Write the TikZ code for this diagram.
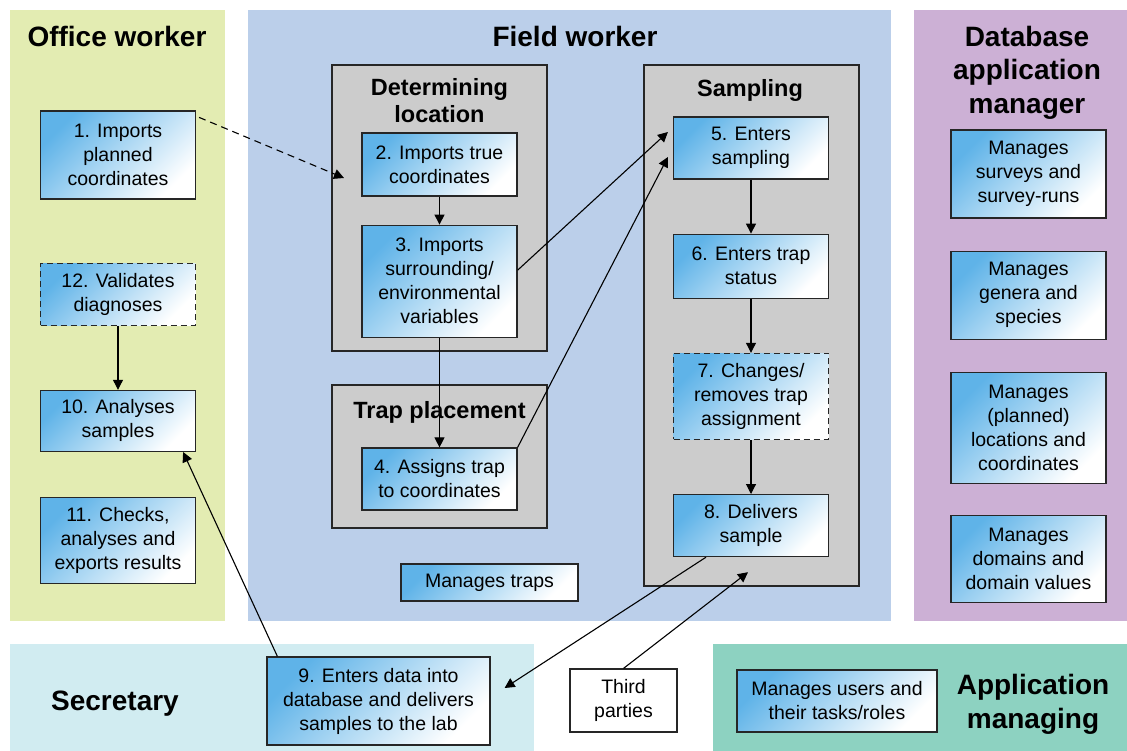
\documentclass[tikz,border=0pt]{standalone}
\usepackage{fontspec}
\setmainfont{Liberation Sans}
\usepackage{tikz}
\usetikzlibrary{arrows.meta,positioning}
\definecolor{cOffice}{HTML}{E3ECB2}
\definecolor{cField}{HTML}{BBCFEA}
\definecolor{cDb}{HTML}{CCB0D5}
\definecolor{cSecr}{HTML}{D1ECF1}
\definecolor{cApp}{HTML}{8DD2C1}
\definecolor{cGroup}{HTML}{CCCCCC}
\definecolor{cTask}{HTML}{5FB3E8}
\definecolor{cLine}{HTML}{262626}
\newcommand{\taskfont}{\fontsize{19.5}{24}\selectfont}
\newcommand{\roletitle}{\fontsize{28}{33.5}\selectfont\bfseries}
\newcommand{\grouptitle}{\fontsize{23.5}{27}\selectfont\bfseries}
\tikzset{
  lane/.style     = {rectangle, fill=#1, draw=none, inner sep=0pt},
  grp/.style      = {rectangle, draw=cLine, fill=cGroup, line width=1.2pt, inner sep=0pt,
                     minimum width=215pt},
  task/.style     = {rectangle, draw=cLine, line width=1.2pt, top color=cTask,
                     bottom color=white, shading angle=45, align=center, inner sep=2pt,
                     font=\taskfont, minimum width=155pt},
  optional/.style = {task, dash pattern=on 6pt off 4pt},
  plain/.style    = {rectangle, draw=cLine, fill=white, line width=1.2pt, align=center,
                     inner sep=2pt, font=\taskfont},
  role/.style     = {align=center, font=\roletitle},
  grptitle/.style = {align=center, font=\grouptitle},
  fl/.style       = {-{Triangle[length=10pt,width=10pt]}, draw=black, line width=1.1pt},
  fld/.style      = {fl, dash pattern=on 7pt off 5pt},
}

\begin{document}
\begin{tikzpicture}[x=1pt, y=-1pt]
  \useasboundingbox (0,0) rectangle (1127,751);

  \node[lane=cOffice, minimum width=215pt, minimum height=611pt] (office) at (117.5,315.5) {};
  \node[lane=cField, minimum width=643pt, minimum height=611pt] (field) at (569.5,315.5) {};
  \node[lane=cDb, minimum width=213pt, minimum height=611pt] (dbm) at (1020.5,315.5) {};
  \node[lane=cSecr, minimum width=524pt, minimum height=107pt] (secr) at (272,697.5) {};
  \node[lane=cApp, minimum width=414pt, minimum height=107pt] (appm) at (920,697.5) {};

  \node[role] (hOffice) at (117,36) {Office worker};
  \node[role] (hField) at (575,36) {Field worker};
  \node[role] (hDbm) at (1027,72.5) {Database\\application\\manager};
  \node[role] (hSecr) at (115,704) {Secretary};
  \node[role] (hAppm) at (1033,704.5) {Application\\managing};

  \node[grp, minimum height=286pt] (detloc) at (439.5,208) {};
  \node[grp, minimum height=143pt] (trappl) at (439.5,456.5) {};
  \node[grp, minimum height=521pt] (sampl) at (751.5,325.5) {};
  \node[grptitle] (hDetloc) at (439.5,100.5) {Determining\\location};
  \node[grptitle] (hTrappl) at (439.5,412) {Trap placement};
  \node[grptitle] (hSampl) at (750,90) {Sampling};

  \node[task, minimum height=88pt] (t1) at (118,155) {1. Imports\\planned\\coordinates};
  \node[optional, minimum height=62pt, below=63pt of t1] (t12) {12. Validates\\diagnoses};
  \node[task, minimum height=61pt, below=64pt of t12] (t10) {10. Analyses\\samples};
  \node[task, minimum height=86pt, below=45pt of t10] (t11) {11. Checks,\\analyses and\\exports results};

  \node[task, minimum height=63pt] (t2) at (439.5,164.5) {2. Imports true\\coordinates};
  \node[task, minimum height=112pt, below=28pt of t2] (t3) {3. Imports\\surrounding/\\environmental\\variables};
  \node[task, minimum height=62pt] (t4) at (439.5,479) {4. Assigns trap\\to coordinates};
  \node[task, minimum width=177pt, minimum height=37pt] (mtraps) at (489.5,582.5) {Manages traps};

  \node[task, minimum height=62pt] (t5) at (751,148) {5. Enters\\sampling};
  \node[task, minimum height=64pt, below=54pt of t5] (t6) {6. Enters trap\\status};
  \node[optional, minimum height=86pt, below=54pt of t6] (t7) {7. Changes/\\removes trap\\assignment};
  \node[task, minimum height=62pt, below=54pt of t7] (t8) {8. Delivers\\sample};

  \node[task, minimum height=88pt] (m1) at (1028.5,174) {Manages\\surveys and\\survey-runs};
  \node[task, minimum height=88pt, below=32pt of m1] (m2) {Manages\\genera and\\species};
  \node[task, minimum height=111pt, below=32pt of m2] (m3) {Manages\\(planned)\\locations and\\coordinates};
  \node[task, minimum height=87pt, below=31pt of m3] (m4) {Manages\\domains and\\domain values};

  \node[task, minimum width=223pt, minimum height=88pt] (t9) at (378.5,701) {9. Enters data into\\database and delivers\\samples to the lab};
  \node[plain, minimum width=107pt, minimum height=63pt] (third) at (623.5,700.5) {Third\\parties};
  \node[task, minimum width=200pt, minimum height=62pt] (musers) at (837,701) {Manages users and\\their tasks/roles};

  \coordinate (dlin) at (344,178);

  \draw[fld] ([xshift=3pt,yshift=-7pt]t1.north east) -- (dlin);
  \draw[fl] (t2) -- (t3);
  \draw[fl] (t3) -- (t4);
  \draw[fl] ([yshift=11pt]t3.east) -- ([xshift=-5pt,yshift=16pt]t5.west);
  \draw[fl] (t4.north east) -- ([xshift=-5pt,yshift=-9pt]t5.west);
  \draw[fl] (t5) -- (t6);
  \draw[fl] (t6) -- (t7);
  \draw[fl] (t7) -- (t8);
  \draw[fl] (t12) -- (t10);
  \draw[fl] ([xshift=11pt]t9.north west) -- ([xshift=-13pt]t10.south east);
  \draw[fl] ([xshift=-45pt]t8.south) -- ([xshift=14pt,yshift=13pt]t9.east);
  \draw[fl] (third.north) -- ([xshift=-3pt,yshift=-15pt]t8.south);
\end{tikzpicture}
\end{document}
